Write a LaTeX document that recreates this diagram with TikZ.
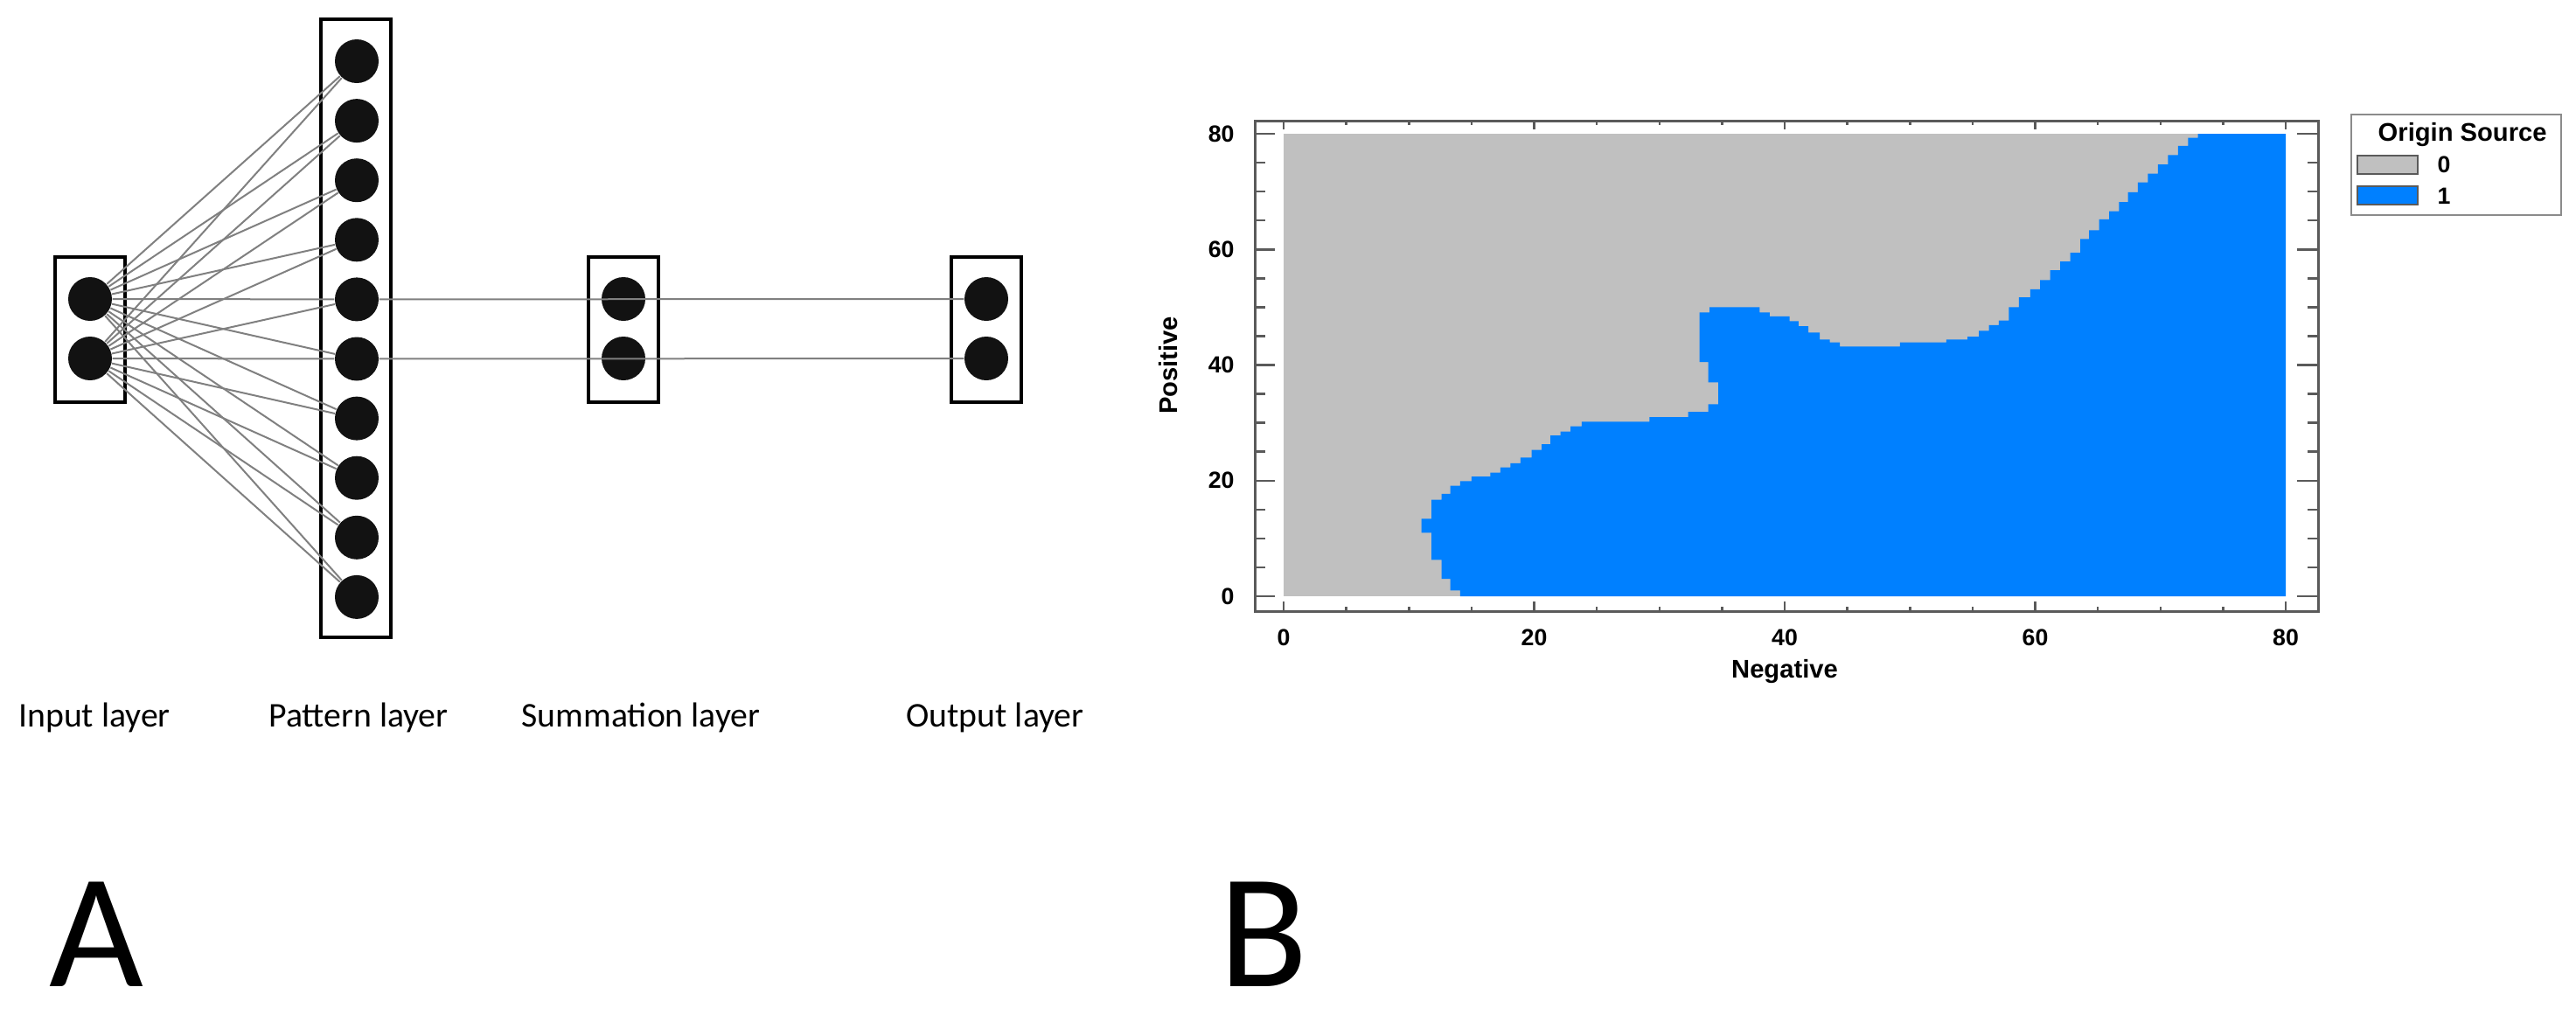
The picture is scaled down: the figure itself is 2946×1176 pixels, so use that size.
\documentclass[tikz,border=0pt]{standalone}
\usepackage{fontspec}
\setmainfont{Carlito}
\newfontfamily\chartfont{Liberation Sans}

\definecolor{regiongray}{HTML}{C0C0C0}
\definecolor{regionblue}{HTML}{0080FF}
\definecolor{framegray}{HTML}{5A5A5A}

\begin{document}
\begin{tikzpicture}[x=0.1mm, y=-0.1mm,
    neuron/.style={circle, fill=black!93, minimum size=5mm, inner sep=0pt},
    layerbox/.style={draw, line width=0.4mm, minimum width=8mm, inner sep=0pt},
    link/.style={draw=black!50, line width=0.2mm},
    layerlabel/.style={font=\fontsize{11.3}{13}\selectfont},
    panel/.style={font=\fontsize{53}{60}\selectfont, anchor=base, inner sep=0pt},
    ticklabel/.style={font=\chartfont\bfseries\fontsize{7.6}{9}\selectfont},
    axislabel/.style={font=\chartfont\bfseries\fontsize{8.3}{10}\selectfont},
    tick/.style={draw=framegray, line width=0.25mm}]

\useasboundingbox (0,0) rectangle (2946,1176);

% A: the network
\node[layerbox, minimum height=16.6mm] (inbox) at (102.5,377) {};
\node[layerbox, minimum height=70.7mm] (patbox) at (407,375.5) {};
\node[layerbox, minimum height=16.6mm] (sumbox) at (712.5,377) {};
\node[layerbox, minimum height=16.6mm] (outbox) at (1128,377) {};

\node[neuron] (i1) at (103,342) {};
\node[neuron] (i2) at (103,410) {};
\foreach \k in {1,...,10}
    \node[neuron] (p\k) at (408,{70+68.1*(\k-1)}) {};
\node[neuron] (s1) at (713,342) {};
\node[neuron] (s2) at (713,410) {};
\node[neuron] (o1) at (1128,342) {};
\node[neuron] (o2) at (1128,410) {};

\foreach \i in {1,2}
    \foreach \k in {1,...,10}
        \draw[link] (i\i) -- (p\k);
\draw[link] (p5) -- (o1);
\draw[link] (p6) -- (o2);

\node[layerlabel] (inlabel) at (108,821) {Input layer};
\node[layerlabel] (patlabel) at (410,821) {Pattern layer};
\node[layerlabel] (sumlabel) at (733,821) {Summation layer};
\node[layerlabel] (outlabel) at (1138,821) {Output layer};

\node[panel] (panelA) at (110,1128) {A};
\node[panel] (panelB) at (1445,1128) {B};

% B: the map
\begin{scope}[shift={(1468,682)}, x=1.4325mm, y=0.66125mm]
    \fill[regiongray] (0,0) rectangle (80,80);
    \fill[regionblue] plot coordinates {
        (14.1,0) (14.1,1.0) (13.3,1.0) (13.3,3.0) (12.6,3.0) (12.6,6.3)
        (11.8,6.3) (11.8,11.0) (11.0,11.0) (11.0,13.4) (11.8,13.4) (11.8,16.7)
        (12.6,16.7) (12.6,17.7) (13.3,17.7) (13.3,19.1) (14.1,19.1) (14.1,19.9)
        (15.0,19.9) (15.0,20.7) (16.5,20.7) (16.5,21.4) (17.3,21.4) (17.3,22.3)
        (18.1,22.3) (18.1,23.0) (18.9,23.0) (18.9,24.0) (19.8,24.0) (19.8,25.3)
        (20.6,25.3) (20.6,26.3) (21.3,26.3) (21.3,27.8) (22.1,27.8) (22.1,28.5)
        (22.9,28.5) (22.9,29.4) (23.8,29.4) (23.8,30.2) (29.2,30.2) (29.2,31.0)
        (32.3,31.0) (32.3,31.9) (33.9,31.9) (33.9,33.2) (34.7,33.2) (34.7,37.0)
        (33.9,37.0) (33.9,40.5) (33.2,40.5) (33.2,49.1) (34.0,49.1) (34.0,50.0)
        (38.0,50.0) (38.0,49.1) (38.8,49.1) (38.8,48.4) (40.4,48.4) (40.4,47.6)
        (41.1,47.6) (41.1,46.7) (41.9,46.7) (41.9,45.6) (42.8,45.6) (42.8,44.4)
        (43.6,44.4) (43.6,43.9) (44.4,43.9) (44.4,43.2) (49.2,43.2) (49.2,43.9)
        (52.9,43.9) (52.9,44.4) (54.6,44.4) (54.6,44.9) (55.5,44.9) (55.5,45.9)
        (56.3,45.9) (56.3,46.9) (57.1,46.9) (57.1,47.7) (57.9,47.7) (57.9,50.0)
        (58.7,50.0) (58.7,51.7) (59.6,51.7) (59.6,53.1) (60.4,53.1) (60.4,54.7)
        (61.2,54.7) (61.2,56.4) (62.0,56.4) (62.0,57.9) (62.8,57.9) (62.8,59.4)
        (63.6,59.4) (63.6,61.8) (64.3,61.8) (64.3,63.3) (65.1,63.3) (65.1,65.2)
        (65.9,65.2) (65.9,66.6) (66.7,66.6) (66.7,68.2) (67.4,68.2) (67.4,69.9)
        (68.2,69.9) (68.2,71.6) (69.0,71.6) (69.0,73.1) (69.8,73.1) (69.8,74.7)
        (70.6,74.7) (70.6,76.3) (71.4,76.3) (71.4,77.9) (72.2,77.9) (72.2,79.3)
        (73.0,79.3) (73.0,80) (80,80) (80,0)} -- cycle;
\end{scope}

\draw[framegray, line width=0.3mm] (1435,138) rectangle (2651,699);
\foreach \v [evaluate=\v as \ty using 682-6.6125*\v,
             evaluate=\v as \tx using 1468+14.325*\v,
             evaluate=\v as \ml using {mod(\v,20)==0 ? 1 : 0.5}] in {0,5,...,80} {
    \draw[tick] (1435,\ty) -- ++(23*\ml,0);
    \draw[tick] (2651,\ty) -- ++(-24*\ml,0);
    \draw[tick] (\tx,138) -- ++(0,10*\ml);
    \draw[tick] (\tx,699) -- ++(0,-11*\ml);
}
\foreach \v in {0,20,...,80} {
    \node[ticklabel, anchor=east] (ylab\v) at (1424,{682-6.6125*\v}) {\v};
    \node[ticklabel] (xlab\v) at ({1468+14.325*\v},729) {\v};
}
\node[axislabel] (xtitle) at (2041,768) {Negative};
\node[axislabel, rotate=90] (ytitle) at (1336,418) {Positive};

% legend
\draw[framegray!70, line width=0.25mm] (2689,131) rectangle (2929,246);
\node[axislabel, anchor=east] (legtitle) at (2925,154) {Origin Source};
\draw[framegray, line width=0.25mm, fill=regiongray] (2696,178) rectangle (2765,199);
\draw[framegray, line width=0.25mm, fill=regionblue] (2696,213) rectangle (2765,234);
\node[ticklabel] (legzero) at (2795,188) {0};
\node[ticklabel] (legone) at (2795,224) {1};
\end{tikzpicture}
\end{document}
